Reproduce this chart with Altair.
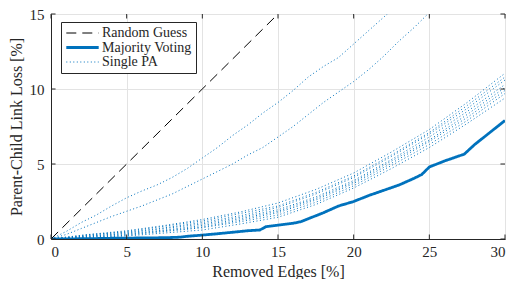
import altair as alt
import pandas as pd

# ---- data ----
rg_x = [0, 15]
rg_y = [0, 15]

mv_x = [0, 1, 2, 3, 4, 5, 6, 7, 8, 8.5, 9, 10, 11, 12, 13, 13.8, 14.2, 15, 16, 16.5, 17, 18, 19, 20,
        21, 22, 23, 24, 24.5, 25, 26, 27, 27.3, 28, 29, 30]
mv_y = [0, 0, 0.02, 0.03, 0.05, 0.06, 0.07, 0.08, 0.1, 0.12, 0.18, 0.26, 0.35, 0.45, 0.55, 0.6, 0.82,
        0.92, 1.05, 1.15, 1.35, 1.75, 2.2, 2.5, 2.9, 3.25, 3.6, 4.05, 4.3, 4.8, 5.2, 5.55, 5.65, 6.3, 7.1, 7.9]

pa_a_x = [0, 1, 2, 3, 4, 5, 6, 7, 8, 9, 10, 11, 12, 13, 14, 15, 16, 17, 18, 19, 20, 21, 22, 23]
pa_a_y = [0, 0.5, 1.1, 1.6, 2.2, 2.75, 3.2, 3.6, 4.1, 4.7, 5.4, 6.1, 6.9, 7.6, 8.4, 9.1, 9.9, 10.8,
          11.5, 12.1, 13.0, 13.9, 14.8, 15.7]
pa_b_x = [0, 1, 2, 3, 4, 5, 6, 7, 8, 9, 10, 11, 12, 13, 14, 15, 16, 17, 18, 19, 20, 21, 22, 23, 24, 25]
pa_b_y = [0, 0.3, 0.7, 1.1, 1.5, 1.85, 2.2, 2.6, 3.0, 3.5, 4.0, 4.5, 5.0, 5.6, 6.1, 6.8, 7.5, 8.3,
          9.1, 9.8, 10.5, 11.3, 12.2, 13.2, 14.1, 15.1]

cl_x = [0, 2.5, 5, 7.5, 10, 12.5, 15, 17.5, 20, 22.5, 25, 27.5, 30]
cl_1 = [0, 0.3, 0.55, 0.9, 1.3, 1.8, 2.4, 3.3, 4.4, 5.8, 7.3, 9.1, 11.05]
cl_2 = [0, 0.25, 0.5, 0.85, 1.2, 1.7, 2.2, 3.1, 4.2, 5.6, 7.1, 8.9, 10.8]
cl_3 = [0, 0.3, 0.45, 0.75, 1.1, 1.55, 2.1, 3.0, 4.1, 5.5, 7.0, 8.7, 10.6]
cl_4 = [0, 0.2, 0.4, 0.7, 1.0, 1.45, 1.95, 2.8, 3.9, 5.3, 6.8, 8.5, 10.3]
cl_5 = [0, 0.2, 0.35, 0.6, 0.9, 1.35, 1.85, 2.7, 3.8, 5.2, 6.6, 8.3, 10.1]
cl_6 = [0, 0.15, 0.3, 0.55, 0.8, 1.25, 1.75, 2.6, 3.7, 5.05, 6.5, 8.1, 9.9]
cl_7 = [0, 0.12, 0.25, 0.5, 0.75, 1.15, 1.6, 2.45, 3.55, 4.9, 6.3, 7.9, 9.7]
cl_8 = [0, 0.1, 0.2, 0.4, 0.6, 1.0, 1.45, 2.3, 3.4, 4.7, 6.1, 7.7, 9.4]

x_ticks = [0, 5, 10, 15, 20, 25, 30]
y_ticks = [0, 5, 10, 15]

series_names = ["Random Guess", "Majority Voting", "Single PA"]

# ---- build tables ----
rows = []
for i, (xs_, ys_) in enumerate([(pa_a_x, pa_a_y), (pa_b_x, pa_b_y)] +
                               [(cl_x, c) for c in [cl_1, cl_2, cl_3, cl_4, cl_5, cl_6, cl_7, cl_8]]):
    for x, y in zip(xs_, ys_):
        rows.append({"x": x, "y": y, "series": "Single PA", "run": f"pa{i}"})
pa_df = pd.DataFrame(rows)
mv_df = pd.DataFrame({"x": mv_x, "y": mv_y, "series": "Majority Voting", "run": "mv"})
rg_df = pd.DataFrame({"x": rg_x, "y": rg_y, "series": "Random Guess", "run": "rg"})

FONT = "Liberation Serif, DejaVu Serif, serif"
BLUE = "#0072BD"

xs = alt.Scale(domain=[0, 30], nice=False)
ys = alt.Scale(domain=[0, 15], nice=False)

enc = dict(
    x=alt.X("x:Q", scale=xs,
            axis=alt.Axis(values=x_ticks, title="Removed Edges [%]", grid=True, ticks=False,
                          labelPadding=5, titlePadding=4)),
    y=alt.Y("y:Q", scale=ys,
            axis=alt.Axis(values=y_ticks, title="Parent-Child Link Loss [%]", grid=True, ticks=False,
                          labelPadding=7, titlePadding=5)),
    color=alt.Color("series:N", scale=alt.Scale(domain=series_names, range=["black", BLUE, BLUE]),
                    legend=alt.Legend(title=None, orient="none", legendX=10, legendY=8)),
    strokeDash=alt.StrokeDash("series:N", scale=alt.Scale(domain=series_names,
                                                          range=[[10, 6], [1, 0], [1, 2.5]])),
    strokeWidth=alt.StrokeWidth("series:N", scale=alt.Scale(domain=series_names, range=[1, 2.8, 1],
                                                            type="ordinal")),
    detail="run:N",
)

pa = alt.Chart(pa_df).mark_line(clip=True).encode(**enc)
mv = alt.Chart(mv_df).mark_line(clip=True).encode(**enc)
rg = alt.Chart(rg_df).mark_line(clip=True).encode(**enc)

# inward ticks
tl = 0.3
tick_rows = []
for t in x_ticks:
    tick_rows.append({"x": t, "x2": t, "y": 0, "y2": tl})
    tick_rows.append({"x": t, "x2": t, "y": 15, "y2": 15 - tl})
for t in y_ticks:
    tick_rows.append({"x": 0, "x2": tl, "y": t, "y2": t})
    tick_rows.append({"x": 30, "x2": 30 - tl, "y": t, "y2": t})
ticks_df = pd.DataFrame(tick_rows)
ticks = alt.Chart(ticks_df).mark_rule(color="#262626", strokeWidth=1).encode(
    x=alt.X("x:Q", scale=xs), x2="x2:Q", y=alt.Y("y:Q", scale=ys), y2="y2:Q")

chart = alt.layer(pa, mv, rg, ticks).properties(
    width=454, height=225,
    autosize=alt.AutoSizeParams(type="none"),
    padding={"left": 43, "top": 6, "right": 1, "bottom": 40},
).configure_view(stroke="#262626", strokeWidth=1).configure_axis(
    labelFont=FONT, titleFont=FONT, labelFontSize=15, titleFontSize=16,
    labelColor="#262626", titleColor="#262626", titleFontWeight="normal",
    gridColor="#e3e3e3", gridWidth=1, domainColor="#262626",
).configure_legend(
    labelFont=FONT, labelFontSize=14, labelColor="#262626",
    symbolType="M-2.7,0H2.7", symbolSize=144, symbolOffset=10, labelOffset=12,
    strokeColor="#262626", fillColor="white", padding=4, rowPadding=0,
)

chart.save("out.html", embed_options={"renderer": "svg", "actions": False})
